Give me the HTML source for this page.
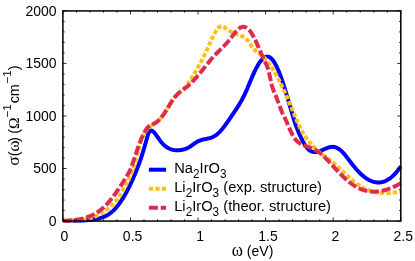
<!DOCTYPE html>
<html><head><meta charset="utf-8"><title>chart</title>
<style>html,body{margin:0;padding:0;background:#fff;overflow:hidden}body{width:415px;height:261px;position:relative;font-family:"Liberation Sans",sans-serif}</style>
</head><body>
<svg width="415" height="261" viewBox="0 0 415 261" style="position:absolute;left:0;top:0">
<rect width="415" height="261" fill="#fff"/>
<defs><clipPath id="c"><rect x="62.9" y="10.9" width="339.1" height="214.15"/></clipPath></defs>
<g clip-path="url(#c)" fill="none" stroke-width="4" stroke-linejoin="round">
<polyline stroke="#0000ff" points="62.90,220.90 63.58,220.90 64.25,220.90 64.93,220.89 65.61,220.89 66.29,220.89 66.96,220.89 67.64,220.89 68.32,220.88 68.99,220.88 69.67,220.88 70.35,220.87 71.03,220.87 71.70,220.86 72.38,220.86 73.06,220.85 73.73,220.84 74.41,220.83 75.09,220.81 75.77,220.80 76.44,220.78 77.12,220.77 77.80,220.75 78.47,220.72 79.15,220.70 79.83,220.67 80.51,220.64 81.18,220.61 81.86,220.57 82.54,220.54 83.21,220.49 83.89,220.45 84.57,220.40 85.25,220.35 85.92,220.30 86.60,220.24 87.28,220.18 87.95,220.11 88.63,220.04 89.31,219.97 89.99,219.89 90.66,219.80 91.34,219.72 92.02,219.62 92.69,219.53 93.37,219.43 94.05,219.32 94.73,219.21 95.40,219.09 96.08,218.97 96.76,218.84 97.43,218.70 98.11,218.56 98.79,218.41 99.47,218.24 100.14,218.06 100.82,217.87 101.50,217.67 102.17,217.45 102.85,217.22 103.53,216.96 104.21,216.69 104.88,216.40 105.56,216.08 106.24,215.74 106.92,215.38 107.59,215.00 108.27,214.59 108.95,214.15 109.62,213.68 110.30,213.19 110.98,212.66 111.66,212.10 112.33,211.51 113.01,210.89 113.69,210.23 114.36,209.55 115.04,208.83 115.72,208.09 116.40,207.31 117.07,206.50 117.75,205.66 118.43,204.79 119.10,203.89 119.78,202.95 120.46,201.99 121.14,201.00 121.81,199.97 122.49,198.92 123.17,197.83 123.84,196.72 124.52,195.57 125.20,194.40 125.88,193.19 126.55,191.96 127.23,190.69 127.91,189.40 128.58,188.08 129.26,186.72 129.94,185.34 130.62,183.93 131.29,182.49 131.97,181.02 132.65,179.52 133.32,177.99 134.00,176.43 134.68,174.83 135.36,173.21 136.03,171.55 136.71,169.85 137.39,168.12 138.06,166.36 138.74,164.56 139.42,162.71 140.10,160.80 140.77,158.82 141.45,156.78 142.13,154.65 142.80,152.47 143.48,150.23 144.16,147.97 144.84,145.70 145.51,143.38 146.19,141.00 146.87,138.52 147.54,136.08 148.22,134.00 148.90,132.46 149.58,131.43 150.25,130.83 150.93,130.58 151.61,130.61 152.28,130.89 152.96,131.35 153.64,131.96 154.32,132.69 154.99,133.50 155.67,134.38 156.35,135.31 157.02,136.27 157.70,137.25 158.38,138.24 159.06,139.22 159.73,140.16 160.41,141.07 161.09,141.92 161.76,142.72 162.44,143.47 163.12,144.18 163.80,144.83 164.47,145.45 165.15,146.02 165.83,146.54 166.50,147.03 167.18,147.47 167.86,147.88 168.54,148.25 169.21,148.58 169.89,148.88 170.57,149.15 171.24,149.38 171.92,149.58 172.60,149.76 173.28,149.90 173.95,150.03 174.63,150.12 175.31,150.19 175.98,150.24 176.66,150.27 177.34,150.28 178.02,150.27 178.69,150.24 179.37,150.19 180.05,150.13 180.72,150.04 181.40,149.94 182.08,149.81 182.76,149.67 183.43,149.50 184.11,149.31 184.79,149.09 185.46,148.86 186.14,148.59 186.82,148.31 187.50,148.00 188.17,147.66 188.85,147.29 189.53,146.90 190.21,146.48 190.88,146.04 191.56,145.58 192.24,145.10 192.91,144.62 193.59,144.14 194.27,143.66 194.95,143.19 195.62,142.73 196.30,142.29 196.98,141.88 197.65,141.49 198.33,141.14 199.01,140.83 199.69,140.55 200.36,140.30 201.04,140.08 201.72,139.88 202.39,139.70 203.07,139.53 203.75,139.38 204.43,139.24 205.10,139.11 205.78,138.98 206.46,138.84 207.13,138.71 207.81,138.56 208.49,138.41 209.17,138.24 209.84,138.05 210.52,137.84 211.20,137.60 211.87,137.34 212.55,137.05 213.23,136.73 213.91,136.38 214.58,135.99 215.26,135.57 215.94,135.11 216.61,134.62 217.29,134.08 217.97,133.50 218.65,132.88 219.32,132.22 220.00,131.53 220.68,130.80 221.35,130.03 222.03,129.24 222.71,128.42 223.39,127.57 224.06,126.70 224.74,125.80 225.42,124.88 226.09,123.95 226.77,123.00 227.45,122.04 228.13,121.06 228.80,120.08 229.48,119.09 230.16,118.09 230.83,117.09 231.51,116.08 232.19,115.08 232.87,114.08 233.54,113.09 234.22,112.09 234.90,111.09 235.57,110.08 236.25,109.07 236.93,108.04 237.61,106.99 238.28,105.93 238.96,104.84 239.64,103.73 240.31,102.59 240.99,101.42 241.67,100.22 242.35,98.97 243.02,97.69 243.70,96.36 244.38,94.99 245.05,93.57 245.73,92.09 246.41,90.57 247.09,89.02 247.76,87.43 248.44,85.82 249.12,84.20 249.79,82.57 250.47,80.95 251.15,79.33 251.83,77.73 252.50,76.15 253.18,74.61 253.86,73.10 254.53,71.64 255.21,70.23 255.89,68.87 256.57,67.57 257.24,66.33 257.92,65.15 258.60,64.03 259.27,62.98 259.95,62.00 260.63,61.09 261.31,60.26 261.98,59.51 262.66,58.84 263.34,58.26 264.01,57.76 264.69,57.36 265.37,57.04 266.05,56.83 266.72,56.70 267.40,56.68 268.08,56.76 268.75,56.93 269.43,57.21 270.11,57.60 270.79,58.09 271.46,58.69 272.14,59.40 272.82,60.22 273.49,61.14 274.17,62.16 274.85,63.28 275.53,64.49 276.20,65.79 276.88,67.18 277.56,68.65 278.24,70.20 278.91,71.83 279.59,73.53 280.27,75.30 280.94,77.13 281.62,79.03 282.30,80.99 282.98,83.00 283.65,85.07 284.33,87.18 285.01,89.34 285.68,91.54 286.36,93.78 287.04,96.05 287.72,98.36 288.39,100.70 289.07,103.05 289.75,105.42 290.42,107.79 291.10,110.14 291.78,112.47 292.46,114.76 293.13,117.00 293.81,119.19 294.49,121.30 295.16,123.33 295.84,125.26 296.52,127.09 297.20,128.84 297.87,130.51 298.55,132.12 299.23,133.67 299.90,135.19 300.58,136.66 301.26,138.10 301.94,139.48 302.61,140.82 303.29,142.10 303.97,143.31 304.64,144.45 305.32,145.52 306.00,146.51 306.68,147.41 307.35,148.22 308.03,148.95 308.71,149.59 309.38,150.14 310.06,150.62 310.74,151.03 311.42,151.36 312.09,151.63 312.77,151.84 313.45,151.98 314.12,152.07 314.80,152.11 315.48,152.10 316.16,152.04 316.83,151.95 317.51,151.81 318.19,151.65 318.86,151.45 319.54,151.22 320.22,150.98 320.90,150.71 321.57,150.43 322.25,150.14 322.93,149.84 323.60,149.53 324.28,149.23 324.96,148.92 325.64,148.63 326.31,148.34 326.99,148.07 327.67,147.82 328.34,147.59 329.02,147.38 329.70,147.20 330.38,147.06 331.05,146.95 331.73,146.88 332.41,146.85 333.08,146.87 333.76,146.94 334.44,147.06 335.12,147.23 335.79,147.44 336.47,147.70 337.15,148.01 337.82,148.37 338.50,148.77 339.18,149.22 339.86,149.71 340.53,150.25 341.21,150.83 341.89,151.46 342.56,152.13 343.24,152.84 343.92,153.60 344.60,154.39 345.27,155.23 345.95,156.09 346.63,156.97 347.30,157.86 347.98,158.75 348.66,159.64 349.34,160.53 350.01,161.41 350.69,162.30 351.37,163.17 352.04,164.04 352.72,164.90 353.40,165.75 354.08,166.58 354.75,167.40 355.43,168.21 356.11,169.00 356.78,169.77 357.46,170.52 358.14,171.25 358.82,171.96 359.49,172.64 360.17,173.31 360.85,173.95 361.53,174.58 362.20,175.18 362.88,175.75 363.56,176.31 364.23,176.84 364.91,177.35 365.59,177.84 366.27,178.30 366.94,178.75 367.62,179.16 368.30,179.56 368.97,179.92 369.65,180.27 370.33,180.59 371.01,180.89 371.68,181.16 372.36,181.40 373.04,181.62 373.71,181.82 374.39,181.99 375.07,182.13 375.75,182.25 376.42,182.34 377.10,182.40 377.78,182.44 378.45,182.45 379.13,182.43 379.81,182.39 380.49,182.32 381.16,182.22 381.84,182.09 382.52,181.93 383.19,181.75 383.87,181.54 384.55,181.29 385.23,181.02 385.90,180.72 386.58,180.39 387.26,180.03 387.93,179.64 388.61,179.23 389.29,178.78 389.97,178.30 390.64,177.79 391.32,177.24 392.00,176.67 392.67,176.07 393.35,175.43 394.03,174.76 394.71,174.06 395.38,173.33 396.06,172.57 396.74,171.77 397.41,170.94 398.09,170.08 398.77,169.19 399.45,168.26 400.12,167.30 400.80,166.30"/>
<polyline stroke="#ffc020" stroke-dasharray="4.4 2" points="62.90,220.90 63.58,220.88 64.25,220.86 64.93,220.85 65.61,220.83 66.29,220.82 66.96,220.80 67.64,220.78 68.32,220.77 68.99,220.75 69.67,220.73 70.35,220.71 71.03,220.69 71.70,220.66 72.38,220.63 73.06,220.61 73.73,220.57 74.41,220.54 75.09,220.50 75.77,220.45 76.44,220.41 77.12,220.36 77.80,220.30 78.47,220.24 79.15,220.17 79.83,220.10 80.51,220.03 81.18,219.94 81.86,219.85 82.54,219.76 83.21,219.66 83.89,219.55 84.57,219.43 85.25,219.31 85.92,219.17 86.60,219.03 87.28,218.89 87.95,218.73 88.63,218.56 89.31,218.39 89.99,218.20 90.66,218.01 91.34,217.80 92.02,217.59 92.69,217.36 93.37,217.12 94.05,216.88 94.73,216.62 95.40,216.34 96.08,216.06 96.76,215.77 97.43,215.46 98.11,215.14 98.79,214.80 99.47,214.45 100.14,214.09 100.82,213.72 101.50,213.33 102.17,212.92 102.85,212.51 103.53,212.07 104.21,211.62 104.88,211.16 105.56,210.68 106.24,210.18 106.92,209.67 107.59,209.14 108.27,208.59 108.95,208.03 109.62,207.45 110.30,206.85 110.98,206.23 111.66,205.59 112.33,204.93 113.01,204.25 113.69,203.54 114.36,202.81 115.04,202.04 115.72,201.24 116.40,200.39 117.07,199.51 117.75,198.59 118.43,197.63 119.10,196.61 119.78,195.56 120.46,194.47 121.14,193.34 121.81,192.18 122.49,191.00 123.17,189.80 123.84,188.58 124.52,187.35 125.20,186.11 125.88,184.87 126.55,183.61 127.23,182.34 127.91,181.03 128.58,179.67 129.26,178.25 129.94,176.75 130.62,175.16 131.29,173.47 131.97,171.66 132.65,169.73 133.32,167.70 134.00,165.55 134.68,163.31 135.36,160.97 136.03,158.54 136.71,156.04 137.39,153.49 138.06,150.94 138.74,148.43 139.42,145.99 140.10,143.65 140.77,141.47 141.45,139.46 142.13,137.64 142.80,136.01 143.48,134.54 144.16,133.23 144.84,132.07 145.51,131.05 146.19,130.15 146.87,129.35 147.54,128.64 148.22,128.00 148.90,127.40 149.58,126.83 150.25,126.29 150.93,125.77 151.61,125.26 152.28,124.77 152.96,124.28 153.64,123.80 154.32,123.31 154.99,122.83 155.67,122.33 156.35,121.82 157.02,121.30 157.70,120.76 158.38,120.19 159.06,119.60 159.73,118.97 160.41,118.31 161.09,117.61 161.76,116.87 162.44,116.07 163.12,115.23 163.80,114.33 164.47,113.37 165.15,112.36 165.83,111.30 166.50,110.21 167.18,109.08 167.86,107.94 168.54,106.78 169.21,105.62 169.89,104.46 170.57,103.32 171.24,102.19 171.92,101.10 172.60,100.03 173.28,99.02 173.95,98.05 174.63,97.15 175.31,96.32 175.98,95.55 176.66,94.84 177.34,94.19 178.02,93.58 178.69,93.00 179.37,92.44 180.05,91.90 180.72,91.37 181.40,90.83 182.08,90.29 182.76,89.72 183.43,89.12 184.11,88.48 184.79,87.80 185.46,87.06 186.14,86.26 186.82,85.42 187.50,84.52 188.17,83.58 188.85,82.59 189.53,81.57 190.21,80.52 190.88,79.44 191.56,78.34 192.24,77.22 192.91,76.08 193.59,74.93 194.27,73.77 194.95,72.60 195.62,71.44 196.30,70.27 196.98,69.10 197.65,67.93 198.33,66.74 199.01,65.55 199.69,64.34 200.36,63.11 201.04,61.86 201.72,60.59 202.39,59.29 203.07,57.97 203.75,56.61 204.43,55.22 205.10,53.80 205.78,52.34 206.46,50.84 207.13,49.33 207.81,47.80 208.49,46.26 209.17,44.73 209.84,43.20 210.52,41.69 211.20,40.20 211.87,38.74 212.55,37.32 213.23,35.95 213.91,34.63 214.58,33.37 215.26,32.18 215.94,31.07 216.61,30.06 217.29,29.14 217.97,28.34 218.65,27.65 219.32,27.10 220.00,26.69 220.68,26.43 221.35,26.32 222.03,26.35 222.71,26.50 223.39,26.76 224.06,27.10 224.74,27.50 225.42,27.96 226.09,28.44 226.77,28.94 227.45,29.43 228.13,29.89 228.80,30.34 229.48,30.75 230.16,31.14 230.83,31.52 231.51,31.87 232.19,32.21 232.87,32.53 233.54,32.83 234.22,33.13 234.90,33.42 235.57,33.69 236.25,33.97 236.93,34.24 237.61,34.50 238.28,34.77 238.96,35.04 239.64,35.32 240.31,35.60 240.99,35.88 241.67,36.18 242.35,36.49 243.02,36.82 243.70,37.17 244.38,37.57 245.05,38.02 245.73,38.54 246.41,39.14 247.09,39.84 247.76,40.64 248.44,41.53 249.12,42.50 249.79,43.50 250.47,44.52 251.15,45.54 251.83,46.51 252.50,47.43 253.18,48.27 253.86,49.05 254.53,49.76 255.21,50.42 255.89,51.03 256.57,51.61 257.24,52.15 257.92,52.67 258.60,53.17 259.27,53.67 259.95,54.17 260.63,54.67 261.31,55.19 261.98,55.73 262.66,56.31 263.34,56.92 264.01,57.56 264.69,58.25 265.37,58.97 266.05,59.72 266.72,60.51 267.40,61.34 268.08,62.20 268.75,63.09 269.43,64.01 270.11,64.97 270.79,65.96 271.46,66.98 272.14,68.02 272.82,69.10 273.49,70.21 274.17,71.34 274.85,72.50 275.53,73.69 276.20,74.90 276.88,76.14 277.56,77.40 278.24,78.69 278.91,80.00 279.59,81.33 280.27,82.69 280.94,84.06 281.62,85.46 282.30,86.87 282.98,88.31 283.65,89.76 284.33,91.23 285.01,92.72 285.68,94.22 286.36,95.75 287.04,97.28 287.72,98.83 288.39,100.39 289.07,101.97 289.75,103.56 290.42,105.16 291.10,106.77 291.78,108.40 292.46,110.03 293.13,111.67 293.81,113.32 294.49,114.96 295.16,116.59 295.84,118.21 296.52,119.81 297.20,121.38 297.87,122.91 298.55,124.41 299.23,125.85 299.90,127.25 300.58,128.59 301.26,129.87 301.94,131.11 302.61,132.30 303.29,133.45 303.97,134.55 304.64,135.62 305.32,136.64 306.00,137.63 306.68,138.58 307.35,139.50 308.03,140.39 308.71,141.26 309.38,142.09 310.06,142.90 310.74,143.69 311.42,144.46 312.09,145.21 312.77,145.93 313.45,146.64 314.12,147.33 314.80,148.00 315.48,148.65 316.16,149.29 316.83,149.92 317.51,150.53 318.19,151.12 318.86,151.71 319.54,152.28 320.22,152.84 320.90,153.40 321.57,153.94 322.25,154.48 322.93,155.01 323.60,155.54 324.28,156.06 324.96,156.57 325.64,157.08 326.31,157.59 326.99,158.10 327.67,158.61 328.34,159.12 329.02,159.63 329.70,160.14 330.38,160.66 331.05,161.18 331.73,161.71 332.41,162.24 333.08,162.77 333.76,163.32 334.44,163.87 335.12,164.43 335.79,165.01 336.47,165.59 337.15,166.19 337.82,166.79 338.50,167.40 339.18,168.02 339.86,168.65 340.53,169.28 341.21,169.92 341.89,170.56 342.56,171.20 343.24,171.85 343.92,172.50 344.60,173.14 345.27,173.79 345.95,174.44 346.63,175.08 347.30,175.72 347.98,176.35 348.66,176.98 349.34,177.60 350.01,178.22 350.69,178.83 351.37,179.42 352.04,180.01 352.72,180.59 353.40,181.16 354.08,181.71 354.75,182.25 355.43,182.77 356.11,183.28 356.78,183.78 357.46,184.26 358.14,184.73 358.82,185.18 359.49,185.61 360.17,186.04 360.85,186.45 361.53,186.84 362.20,187.22 362.88,187.59 363.56,187.94 364.23,188.28 364.91,188.61 365.59,188.93 366.27,189.23 366.94,189.52 367.62,189.80 368.30,190.06 368.97,190.31 369.65,190.55 370.33,190.78 371.01,191.00 371.68,191.21 372.36,191.40 373.04,191.58 373.71,191.75 374.39,191.92 375.07,192.07 375.75,192.20 376.42,192.33 377.10,192.45 377.78,192.56 378.45,192.66 379.13,192.75 379.81,192.83 380.49,192.90 381.16,192.96 381.84,193.01 382.52,193.05 383.19,193.08 383.87,193.11 384.55,193.12 385.23,193.13 385.90,193.13 386.58,193.12 387.26,193.10 387.93,193.07 388.61,193.04 389.29,193.00 389.97,192.95 390.64,192.90 391.32,192.83 392.00,192.76 392.67,192.69 393.35,192.61 394.03,192.52 394.71,192.42 395.38,192.32 396.06,192.21 396.74,192.10 397.41,191.98 398.09,191.85 398.77,191.72 399.45,191.59 400.12,191.45 400.80,191.30"/>
<polyline stroke="#de2c4f" stroke-dasharray="9 2.8" points="62.90,220.90 63.58,220.85 64.25,220.81 64.93,220.76 65.61,220.72 66.29,220.67 66.96,220.62 67.64,220.58 68.32,220.53 68.99,220.48 69.67,220.43 70.35,220.37 71.03,220.32 71.70,220.26 72.38,220.20 73.06,220.13 73.73,220.06 74.41,219.98 75.09,219.90 75.77,219.82 76.44,219.73 77.12,219.63 77.80,219.53 78.47,219.42 79.15,219.30 79.83,219.18 80.51,219.05 81.18,218.91 81.86,218.76 82.54,218.61 83.21,218.44 83.89,218.27 84.57,218.08 85.25,217.89 85.92,217.68 86.60,217.47 87.28,217.24 87.95,217.00 88.63,216.75 89.31,216.49 89.99,216.21 90.66,215.92 91.34,215.62 92.02,215.30 92.69,214.97 93.37,214.63 94.05,214.27 94.73,213.89 95.40,213.50 96.08,213.10 96.76,212.67 97.43,212.24 98.11,211.78 98.79,211.31 99.47,210.81 100.14,210.31 100.82,209.78 101.50,209.23 102.17,208.67 102.85,208.08 103.53,207.47 104.21,206.85 104.88,206.20 105.56,205.54 106.24,204.85 106.92,204.14 107.59,203.41 108.27,202.66 108.95,201.88 109.62,201.09 110.30,200.28 110.98,199.45 111.66,198.60 112.33,197.73 113.01,196.85 113.69,195.95 114.36,195.03 115.04,194.10 115.72,193.16 116.40,192.20 117.07,191.23 117.75,190.24 118.43,189.24 119.10,188.23 119.78,187.21 120.46,186.18 121.14,185.14 121.81,184.09 122.49,183.03 123.17,181.96 123.84,180.89 124.52,179.81 125.20,178.72 125.88,177.62 126.55,176.52 127.23,175.41 127.91,174.27 128.58,173.06 129.26,171.76 129.94,170.35 130.62,168.80 131.29,167.10 131.97,165.29 132.65,163.40 133.32,161.44 134.00,159.43 134.68,157.42 135.36,155.40 136.03,153.38 136.71,151.38 137.39,149.41 138.06,147.46 138.74,145.56 139.42,143.71 140.10,141.93 140.77,140.21 141.45,138.56 142.13,137.00 142.80,135.52 143.48,134.12 144.16,132.82 144.84,131.60 145.51,130.48 146.19,129.45 146.87,128.52 147.54,127.70 148.22,126.98 148.90,126.36 149.58,125.85 150.25,125.43 150.93,125.07 151.61,124.77 152.28,124.48 152.96,124.21 153.64,123.91 154.32,123.58 154.99,123.20 155.67,122.77 156.35,122.30 157.02,121.78 157.70,121.21 158.38,120.59 159.06,119.93 159.73,119.22 160.41,118.46 161.09,117.65 161.76,116.81 162.44,115.92 163.12,115.00 163.80,114.04 164.47,113.04 165.15,112.01 165.83,110.96 166.50,109.89 167.18,108.80 167.86,107.70 168.54,106.61 169.21,105.51 169.89,104.42 170.57,103.34 171.24,102.28 171.92,101.25 172.60,100.24 173.28,99.27 173.95,98.33 174.63,97.45 175.31,96.61 175.98,95.82 176.66,95.08 177.34,94.39 178.02,93.73 178.69,93.11 179.37,92.52 180.05,91.95 180.72,91.41 181.40,90.89 182.08,90.38 182.76,89.88 183.43,89.39 184.11,88.89 184.79,88.40 185.46,87.90 186.14,87.39 186.82,86.87 187.50,86.32 188.17,85.76 188.85,85.17 189.53,84.56 190.21,83.93 190.88,83.28 191.56,82.61 192.24,81.93 192.91,81.22 193.59,80.50 194.27,79.77 194.95,79.02 195.62,78.26 196.30,77.48 196.98,76.70 197.65,75.90 198.33,75.10 199.01,74.29 199.69,73.47 200.36,72.64 201.04,71.81 201.72,70.97 202.39,70.13 203.07,69.29 203.75,68.44 204.43,67.60 205.10,66.75 205.78,65.91 206.46,65.07 207.13,64.23 207.81,63.40 208.49,62.57 209.17,61.74 209.84,60.93 210.52,60.12 211.20,59.32 211.87,58.53 212.55,57.75 213.23,56.98 213.91,56.23 214.58,55.49 215.26,54.76 215.94,54.05 216.61,53.35 217.29,52.66 217.97,51.98 218.65,51.30 219.32,50.64 220.00,49.97 220.68,49.30 221.35,48.64 222.03,47.97 222.71,47.30 223.39,46.62 224.06,45.93 224.74,45.23 225.42,44.52 226.09,43.79 226.77,43.05 227.45,42.29 228.13,41.51 228.80,40.71 229.48,39.89 230.16,39.04 230.83,38.16 231.51,37.27 232.19,36.36 232.87,35.45 233.54,34.55 234.22,33.67 234.90,32.80 235.57,31.97 236.25,31.17 236.93,30.42 237.61,29.73 238.28,29.09 238.96,28.53 239.64,28.05 240.31,27.65 240.99,27.32 241.67,27.08 242.35,26.92 243.02,26.84 243.70,26.84 244.38,26.93 245.05,27.10 245.73,27.36 246.41,27.71 247.09,28.14 247.76,28.66 248.44,29.26 249.12,29.96 249.79,30.75 250.47,31.62 251.15,32.59 251.83,33.64 252.50,34.76 253.18,35.96 253.86,37.22 254.53,38.54 255.21,39.92 255.89,41.34 256.57,42.81 257.24,44.32 257.92,45.85 258.60,47.41 259.27,48.98 259.95,50.57 260.63,52.15 261.31,53.73 261.98,55.30 262.66,56.84 263.34,58.35 264.01,59.82 264.69,61.25 265.37,62.63 266.05,63.98 266.72,65.42 267.40,67.07 268.08,69.03 268.75,71.44 269.43,74.37 270.11,77.63 270.79,80.90 271.46,83.87 272.14,86.36 272.82,88.45 273.49,90.25 274.17,91.88 274.85,93.46 275.53,95.09 276.20,96.82 276.88,98.62 277.56,100.46 278.24,102.32 278.91,104.19 279.59,106.03 280.27,107.83 280.94,109.57 281.62,111.23 282.30,112.80 282.98,114.26 283.65,115.62 284.33,116.96 285.01,118.32 285.68,119.75 286.36,121.24 287.04,122.79 287.72,124.36 288.39,125.95 289.07,127.54 289.75,129.11 290.42,130.63 291.10,132.11 291.78,133.51 292.46,134.83 293.13,136.04 293.81,137.15 294.49,138.15 295.16,139.07 295.84,139.90 296.52,140.65 297.20,141.33 297.87,141.94 298.55,142.49 299.23,142.98 299.90,143.43 300.58,143.83 301.26,144.20 301.94,144.54 302.61,144.85 303.29,145.15 303.97,145.44 304.64,145.71 305.32,145.97 306.00,146.22 306.68,146.46 307.35,146.70 308.03,146.94 308.71,147.18 309.38,147.41 310.06,147.66 310.74,147.91 311.42,148.16 312.09,148.43 312.77,148.71 313.45,149.01 314.12,149.32 314.80,149.65 315.48,150.00 316.16,150.37 316.83,150.77 317.51,151.19 318.19,151.65 318.86,152.13 319.54,152.64 320.22,153.17 320.90,153.73 321.57,154.31 322.25,154.91 322.93,155.53 323.60,156.17 324.28,156.82 324.96,157.49 325.64,158.18 326.31,158.87 326.99,159.58 327.67,160.29 328.34,161.02 329.02,161.75 329.70,162.48 330.38,163.22 331.05,163.96 331.73,164.70 332.41,165.43 333.08,166.17 333.76,166.91 334.44,167.64 335.12,168.38 335.79,169.11 336.47,169.83 337.15,170.55 337.82,171.27 338.50,171.98 339.18,172.69 339.86,173.39 340.53,174.08 341.21,174.77 341.89,175.44 342.56,176.11 343.24,176.77 343.92,177.42 344.60,178.06 345.27,178.68 345.95,179.30 346.63,179.91 347.30,180.50 347.98,181.08 348.66,181.64 349.34,182.19 350.01,182.73 350.69,183.25 351.37,183.75 352.04,184.24 352.72,184.71 353.40,185.17 354.08,185.60 354.75,186.03 355.43,186.43 356.11,186.82 356.78,187.19 357.46,187.55 358.14,187.89 358.82,188.21 359.49,188.52 360.17,188.82 360.85,189.10 361.53,189.36 362.20,189.61 362.88,189.84 363.56,190.06 364.23,190.27 364.91,190.45 365.59,190.63 366.27,190.79 366.94,190.94 367.62,191.07 368.30,191.19 368.97,191.30 369.65,191.39 370.33,191.47 371.01,191.53 371.68,191.58 372.36,191.62 373.04,191.65 373.71,191.66 374.39,191.66 375.07,191.65 375.75,191.62 376.42,191.59 377.10,191.54 377.78,191.48 378.45,191.40 379.13,191.32 379.81,191.22 380.49,191.11 381.16,190.99 381.84,190.86 382.52,190.72 383.19,190.57 383.87,190.41 384.55,190.23 385.23,190.05 385.90,189.85 386.58,189.65 387.26,189.43 387.93,189.21 388.61,188.97 389.29,188.73 389.97,188.47 390.64,188.21 391.32,187.94 392.00,187.65 392.67,187.36 393.35,187.06 394.03,186.75 394.71,186.43 395.38,186.11 396.06,185.77 396.74,185.43 397.41,185.07 398.09,184.72 398.77,184.35 399.45,183.97 400.12,183.59 400.80,183.20"/>
</g>
<path d="M62.90,221.05v-3.6M62.90,10.9v3.6M76.42,221.05v-1.8M76.42,10.9v1.8M89.93,221.05v-1.8M89.93,10.9v1.8M103.45,221.05v-1.8M103.45,10.9v1.8M116.96,221.05v-1.8M116.96,10.9v1.8M130.48,221.05v-3.6M130.48,10.9v3.6M144.00,221.05v-1.8M144.00,10.9v1.8M157.51,221.05v-1.8M157.51,10.9v1.8M171.03,221.05v-1.8M171.03,10.9v1.8M184.54,221.05v-1.8M184.54,10.9v1.8M198.06,221.05v-3.6M198.06,10.9v3.6M211.58,221.05v-1.8M211.58,10.9v1.8M225.09,221.05v-1.8M225.09,10.9v1.8M238.61,221.05v-1.8M238.61,10.9v1.8M252.12,221.05v-1.8M252.12,10.9v1.8M265.64,221.05v-3.6M265.64,10.9v3.6M279.16,221.05v-1.8M279.16,10.9v1.8M292.67,221.05v-1.8M292.67,10.9v1.8M306.19,221.05v-1.8M306.19,10.9v1.8M319.70,221.05v-1.8M319.70,10.9v1.8M333.22,221.05v-3.6M333.22,10.9v3.6M346.74,221.05v-1.8M346.74,10.9v1.8M360.25,221.05v-1.8M360.25,10.9v1.8M373.77,221.05v-1.8M373.77,10.9v1.8M387.28,221.05v-1.8M387.28,10.9v1.8M400.80,221.05v-3.6M400.80,10.9v3.6M62.9,221.05h3.6M400.8,221.05h-3.6M62.9,210.54h1.8M400.8,210.54h-1.8M62.9,200.04h1.8M400.8,200.04h-1.8M62.9,189.53h1.8M400.8,189.53h-1.8M62.9,179.02h1.8M400.8,179.02h-1.8M62.9,168.51h3.6M400.8,168.51h-3.6M62.9,158.00h1.8M400.8,158.00h-1.8M62.9,147.50h1.8M400.8,147.50h-1.8M62.9,136.99h1.8M400.8,136.99h-1.8M62.9,126.48h1.8M400.8,126.48h-1.8M62.9,115.98h3.6M400.8,115.98h-3.6M62.9,105.47h1.8M400.8,105.47h-1.8M62.9,94.96h1.8M400.8,94.96h-1.8M62.9,84.45h1.8M400.8,84.45h-1.8M62.9,73.95h1.8M400.8,73.95h-1.8M62.9,63.44h3.6M400.8,63.44h-3.6M62.9,52.93h1.8M400.8,52.93h-1.8M62.9,42.42h1.8M400.8,42.42h-1.8M62.9,31.92h1.8M400.8,31.92h-1.8M62.9,21.41h1.8M400.8,21.41h-1.8M62.9,10.90h3.6M400.8,10.90h-3.6" stroke="#000" stroke-width="0.8" fill="none"/>
<rect x="62.9" y="10.9" width="337.90000000000003" height="210.15" fill="none" stroke="#000" stroke-width="1.5"/>
<g fill="none" stroke-width="4">
<path d="M148.9,169.7H166.1" stroke="#0000ff"/>
<path d="M148.9,188.8H166.1" stroke="#ffc020" stroke-dasharray="4.4 2"/>
<path d="M148.9,207.8H166.1" stroke="#de2c4f" stroke-dasharray="9 2.8"/>
</g>
<g font-family="Liberation Sans, sans-serif" font-size="14px" fill="#000" style="will-change:transform">
<text transform="translate(56.60,225.95) scale(1.0,1.05)" text-anchor="end">0</text>
<text transform="translate(56.60,173.41) scale(1.0,1.05)" text-anchor="end">500</text>
<text transform="translate(56.60,120.88) scale(1.0,1.05)" text-anchor="end">1000</text>
<text transform="translate(56.60,68.34) scale(1.0,1.05)" text-anchor="end">1500</text>
<text transform="translate(56.60,15.80) scale(1.0,1.05)" text-anchor="end">2000</text>
<text transform="translate(64.50,241.00) scale(1.0,1.05)" text-anchor="middle">0</text>
<text transform="translate(132.58,241.00) scale(1.0,1.05)" text-anchor="middle">0.5</text>
<text transform="translate(200.16,241.00) scale(1.0,1.05)" text-anchor="middle">1</text>
<text transform="translate(268.04,241.00) scale(1.0,1.05)" text-anchor="middle">1.5</text>
<text transform="translate(335.32,241.00) scale(1.0,1.05)" text-anchor="middle">2</text>
<text transform="translate(403.20,241.00) scale(1.0,1.05)" text-anchor="middle">2.5</text>
<text transform="translate(231.80,255.80) scale(1.0,1.05)" text-anchor="start"><tspan font-family="Liberation Serif, serif" font-size="17px">ω</tspan> (eV)</text>
<text transform="translate(174.20,172.60) scale(1.0,1.03)" text-anchor="start" font-size="14.7px">Na<tspan font-size="11.8px" dy="5">2</tspan><tspan dy="-5">IrO</tspan><tspan font-size="11.8px" dy="5">3</tspan><tspan dy="-5"></tspan></text>
<text transform="translate(174.20,191.60) scale(1.0,1.03)" text-anchor="start" font-size="14.7px">Li<tspan font-size="11.8px" dy="5">2</tspan><tspan dy="-5">IrO</tspan><tspan font-size="11.8px" dy="5">3</tspan><tspan dy="-5"> (exp. structure)</tspan></text>
<text transform="translate(174.20,210.60) scale(1.0,1.03)" text-anchor="start" font-size="14.7px">Li<tspan font-size="11.8px" dy="5">2</tspan><tspan dy="-5">IrO</tspan><tspan font-size="11.8px" dy="5">3</tspan><tspan dy="-5"> (theor. structure)</tspan></text>
<text transform="translate(18.9,165.8) rotate(-90) scale(1.03,1)"><tspan font-family="Liberation Serif, serif" font-size="17px">σ</tspan><tspan dx="0.2">(</tspan><tspan font-family="Liberation Serif, serif" font-size="17px" dx="-0.3">ω</tspan><tspan dx="-1.9">)</tspan><tspan dx="-0.5"> (</tspan><tspan font-family="Liberation Serif, serif" font-size="15px" dx="0">Ω</tspan><tspan font-size="11.2px" dy="-8">−1</tspan><tspan dy="8" dx="1.0">cm</tspan><tspan font-size="11.2px" dy="-8" dx="0.5">−1</tspan><tspan dy="8" dx="0.3">)</tspan></text>
</g>
</svg>
</body></html>
